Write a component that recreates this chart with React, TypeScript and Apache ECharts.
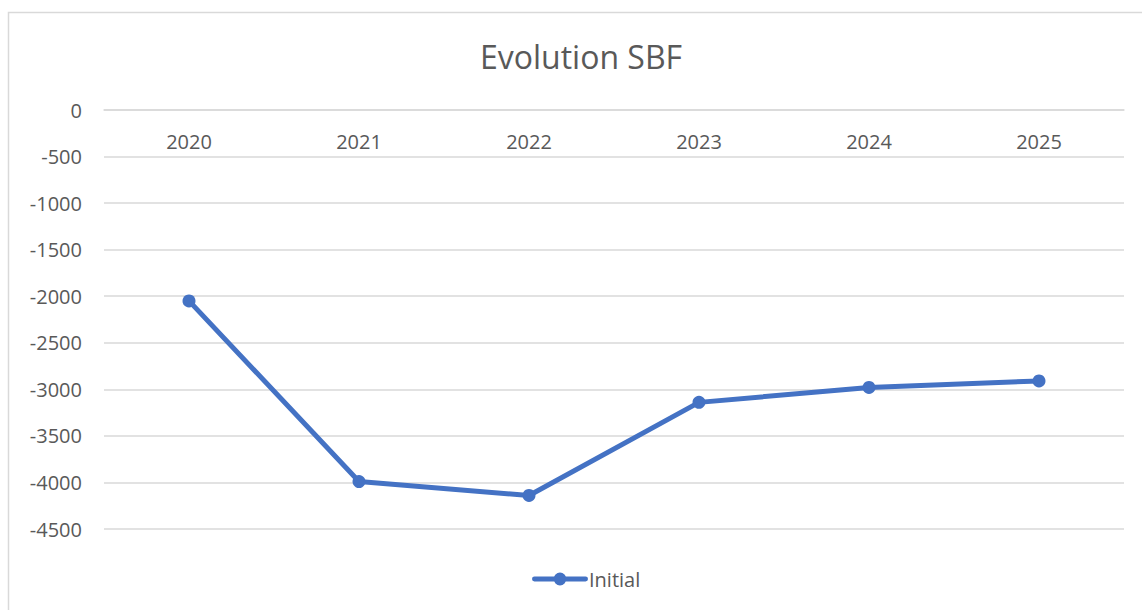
import React, { useEffect, useRef } from "react";
import * as echarts from "echarts";

const categories = ["2020", "2021", "2022", "2023", "2024", "2025"];
const initialValues = [-2050, -3990, -4140, -3140, -2980, -2910];
const seriesName = "Initial";
const titleText = "Evolution SBF";

export default function App() {
  const ref = useRef<HTMLDivElement>(null);
  useEffect(() => {
    if (!ref.current) return;
    const chart = echarts.init(ref.current, null, { renderer: "svg" });
    const font = "Open Sans";
    chart.setOption({
      animation: false,
      backgroundColor: "#ffffff",
      textStyle: { fontFamily: font },
      graphic: [
        {
          type: "rect",
          shape: { x: 8.5, y: 12.5, width: 1160, height: 620 },
          style: { fill: "none", stroke: "#d9d9d9", lineWidth: 1.5 },
          silent: true,
        },
      ],
      title: {
        text: titleText,
        left: 576,
        textAlign: "center",
        top: 35,
        textStyle: { fontFamily: font, fontSize: 32, fontWeight: "normal", color: "#595959" },
      },
      legend: {
        bottom: 16,
        left: 527,
        itemWidth: 56,
        itemHeight: 13,
        itemGap: 10,
        textStyle: { fontFamily: font, fontSize: 20, color: "#595959", padding: [0, 0, 0, -4] },
        data: [
          {
            name: seriesName,
            icon: "path://M2,4.5 L54,4.5 A2.5,2.5 0 0,1 54,9.5 L2,9.5 A2.5,2.5 0 0,1 2,4.5 Z M28,0.5 A6.5,6.5 0 1,1 28,13.5 A6.5,6.5 0 1,1 28,0.5 Z",
          },
        ],
      },
      grid: { left: 104, right: 18, top: 110, bottom: 81, containLabel: false },
      xAxis: {
        type: "category",
        data: categories,
        position: "top",
        boundaryGap: true,
        axisLine: { show: true, lineStyle: { color: "#d9d9d9", width: 1.5 } },
        axisTick: { show: false },
        axisLabel: { inside: true, margin: 21, fontFamily: font, fontSize: 20, color: "#595959" },
      },
      yAxis: {
        type: "value",
        min: -4500,
        max: 0,
        interval: 500,
        axisLine: { show: false },
        axisTick: { show: false },
        splitLine: { lineStyle: { color: "#d9d9d9", width: 1.5 } },
        axisLabel: {
          margin: 22,
          fontFamily: font,
          fontSize: 20,
          color: "#595959",
          formatter: (v: number) => String(v),
        },
      },
      series: [
        {
          name: seriesName,
          type: "line",
          data: initialValues,
          symbol: "circle",
          symbolSize: 13,
          color: "#4472C4",
          lineStyle: { width: 5, color: "#4472C4" },
          itemStyle: { color: "#4472C4" },
        },
      ],
    });
    return () => chart.dispose();
  }, []);
  return (
    <div
      ref={ref}
      style={{ position: "fixed", left: 0, top: 0, width: 1142, height: 610 }}
    />
  );
}
